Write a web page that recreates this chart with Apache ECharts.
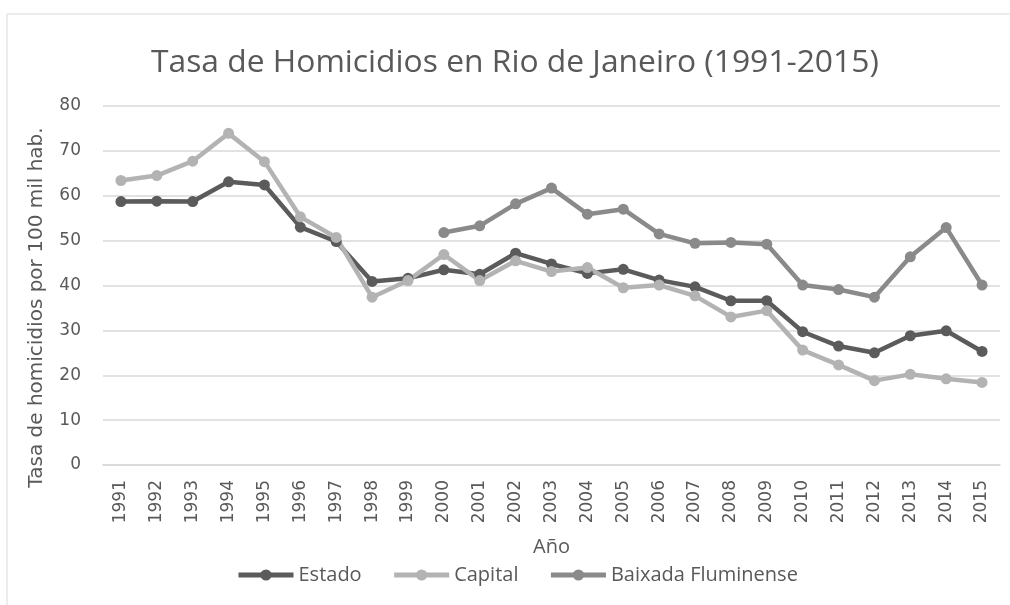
<!DOCTYPE html>
<html>
<head>
<meta charset="utf-8">
<script src="https://cdn.jsdelivr.net/npm/echarts@6/dist/echarts.min.js"></script>
<style>
  html, body { margin: 0; padding: 0; background: #fff; }
  #main { width: 1010px; height: 605px; }
</style>
</head>
<body>
<div id="main"></div>
<script>
// years on the x axis
const years = ['1991', '1992', '1993', '1994', '1995', '1996', '1997', '1998', '1999', '2000',
  '2001', '2002', '2003', '2004', '2005', '2006', '2007', '2008', '2009', '2010',
  '2011', '2012', '2013', '2014', '2015'];

// homicide rates per 100k
const estado = [58.7, 58.8, 58.7, 63.1, 62.4, 53.0, 49.8, 40.9, 41.6, 43.5,
  42.5, 47.2, 44.8, 42.7, 43.6, 41.2, 39.7, 36.6, 36.6, 29.7,
  26.5, 25.0, 28.8, 29.9, 25.3];
const capital = [63.4, 64.5, 67.7, 73.9, 67.6, 55.3, 50.7, 37.4, 41.1, 46.9,
  41.1, 45.5, 43.1, 44.0, 39.5, 40.1, 37.7, 33.0, 34.4, 25.6,
  22.3, 18.8, 20.2, 19.2, 18.4];
const baixada = [null, null, null, null, null, null, null, null, null, 51.8,
  53.3, 58.2, 61.7, 55.9, 57.0, 51.5, 49.4, 49.6, 49.2, 40.1,
  39.1, 37.4, 46.4, 52.9, 40.1];

const textFont = "'Open Sans', sans-serif";
const axisFont = "'DejaVu Sans', sans-serif";

function lineSeries(name, data, color) {
  return {
    name: name,
    type: 'line',
    data: data,
    symbol: 'circle',
    symbolSize: 11,
    lineStyle: { width: 4.5, color: color },
    itemStyle: { color: color },
    connectNulls: false
  };
}

var chart = echarts.init(document.getElementById('main'));
chart.setOption({
  animation: false,
  title: {
    text: 'Tasa de Homicidios en Rio de Janeiro (1991-2015)',
    left: 146,
    top: 42,
    textStyle: { fontFamily: textFont, fontSize: 31.8, fontWeight: 'normal', color: '#595959' }
  },
  graphic: [{
    type: 'rect',
    shape: { x: 7, y: 14, width: 1100, height: 700 },
    style: { fill: 'none', stroke: '#d9d9d9', lineWidth: 1 },
    silent: true
  }],
  legend: {
    bottom: 15,
    left: 231,
    itemWidth: 55,
    itemHeight: 14,
    itemGap: 30,
    lineStyle: { width: 5 },
    textStyle: { fontFamily: textFont, fontSize: 20, color: '#595959' },
    data: ['Estado', 'Capital', 'Baixada Fluminense']
  },
  grid: { left: 103, right: 10, top: 106, bottom: 140 },
  xAxis: {
    type: 'category',
    data: years,
    name: 'Año',
    nameLocation: 'middle',
    nameGap: 72,
    nameTextStyle: { fontFamily: textFont, fontSize: 20, color: '#595959' },
    axisLine: { lineStyle: { color: '#d9d9d9', width: 1.5 } },
    axisTick: { show: false },
    axisLabel: { rotate: 90, margin: 15, fontFamily: axisFont, fontSize: 17, color: '#595959' }
  },
  yAxis: {
    type: 'value',
    min: 0,
    max: 80,
    interval: 10,
    name: 'Tasa de homicidios por 100 mil hab.',
    nameLocation: 'middle',
    nameGap: 56,
    nameTextStyle: { fontFamily: axisFont, fontSize: 20, color: '#595959', padding: [0, 44, 0, 0] },
    axisLine: { show: false },
    axisTick: { show: false },
    axisLabel: { margin: 22, fontFamily: axisFont, fontSize: 17, color: '#595959' },
    splitLine: { lineStyle: { color: '#d9d9d9', width: 1.5 } }
  },
  series: [
    lineSeries('Estado', estado, '#5b5b5b'),
    lineSeries('Capital', capital, '#b3b3b3'),
    lineSeries('Baixada Fluminense', baixada, '#8a8a8a')
  ]
});
</script>
</body>
</html>
